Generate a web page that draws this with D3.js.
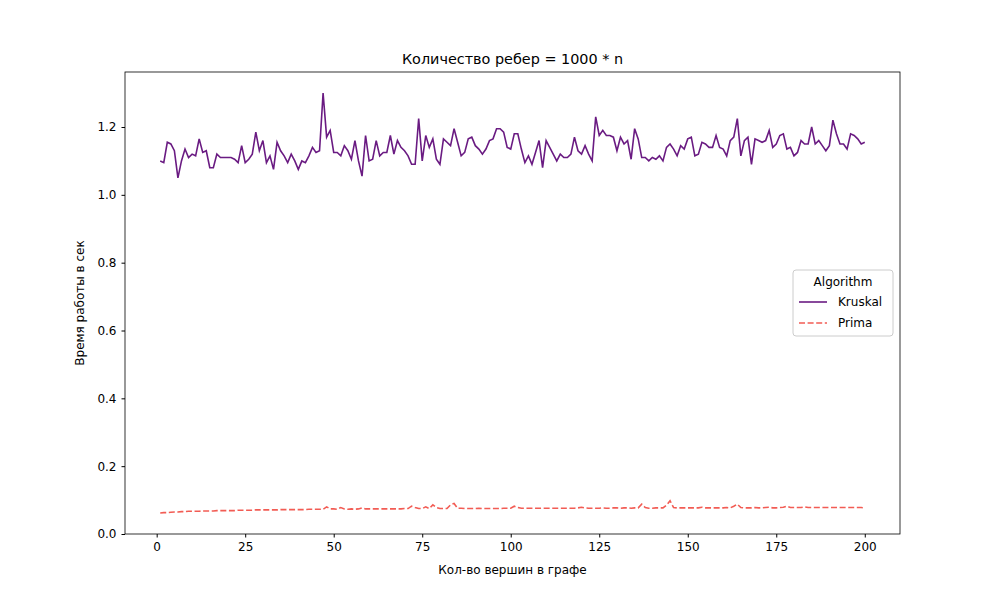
<!DOCTYPE html>
<html lang="ru">
<head>
<meta charset="UTF-8">
<title>Kruskal vs Prima</title>
<script src="https://cdnjs.cloudflare.com/ajax/libs/d3/7.8.5/d3.min.js"></script>
<style>
  body { margin: 0; background: #fff; }
  text { font-family: "DejaVu Sans", sans-serif; }
</style>
</head>
<body>
<svg id="chart" width="1000" height="600"></svg>
<script>
// time per run, seconds; n = 1..200
var kruskal = [
  1.100, 1.095, 1.155, 1.150, 1.130, 1.050, 1.100, 1.135, 1.110, 1.120,
  1.115, 1.165, 1.125, 1.130, 1.080, 1.080, 1.120, 1.110, 1.110, 1.110,
  1.110, 1.105, 1.095, 1.145, 1.095, 1.105, 1.120, 1.185, 1.130, 1.160,
  1.095, 1.115, 1.075, 1.155, 1.130, 1.115, 1.095, 1.120, 1.100, 1.075,
  1.100, 1.095, 1.115, 1.140, 1.125, 1.130, 1.300, 1.170, 1.190, 1.125,
  1.125, 1.115, 1.145, 1.130, 1.105, 1.160, 1.100, 1.055, 1.175, 1.100,
  1.105, 1.160, 1.115, 1.125, 1.125, 1.175, 1.120, 1.160, 1.140, 1.130,
  1.115, 1.090, 1.090, 1.225, 1.100, 1.175, 1.140, 1.165, 1.105, 1.090,
  1.165, 1.155, 1.145, 1.195, 1.155, 1.115, 1.125, 1.165, 1.170, 1.145,
  1.135, 1.120, 1.135, 1.160, 1.165, 1.195, 1.195, 1.185, 1.140, 1.135,
  1.180, 1.180, 1.135, 1.095, 1.115, 1.090, 1.125, 1.160, 1.080, 1.160,
  1.140, 1.120, 1.100, 1.120, 1.110, 1.110, 1.120, 1.170, 1.130, 1.120,
  1.145, 1.120, 1.100, 1.230, 1.175, 1.190, 1.175, 1.175, 1.170, 1.130,
  1.170, 1.150, 1.160, 1.105, 1.195, 1.165, 1.110, 1.110, 1.100, 1.110,
  1.105, 1.115, 1.100, 1.140, 1.150, 1.135, 1.115, 1.145, 1.135, 1.165,
  1.170, 1.115, 1.120, 1.155, 1.150, 1.140, 1.140, 1.175, 1.140, 1.135,
  1.115, 1.160, 1.170, 1.225, 1.115, 1.160, 1.170, 1.090, 1.165, 1.160,
  1.155, 1.160, 1.190, 1.140, 1.150, 1.175, 1.180, 1.135, 1.140, 1.115,
  1.125, 1.160, 1.150, 1.150, 1.200, 1.150, 1.160, 1.145, 1.130, 1.145,
  1.220, 1.180, 1.150, 1.150, 1.135, 1.180, 1.175, 1.165, 1.150, 1.155
];
var prima = [
  0.062, 0.063, 0.063, 0.064, 0.065, 0.065, 0.066, 0.066, 0.067, 0.067,
  0.067, 0.067, 0.068, 0.068, 0.068, 0.068, 0.069, 0.069, 0.069, 0.069,
  0.069, 0.069, 0.070, 0.070, 0.070, 0.070, 0.070, 0.071, 0.071, 0.071,
  0.071, 0.071, 0.071, 0.071, 0.072, 0.072, 0.072, 0.072, 0.072, 0.072,
  0.072, 0.072, 0.073, 0.073, 0.073, 0.073, 0.073, 0.080, 0.074, 0.074,
  0.073, 0.078, 0.074, 0.073, 0.074, 0.073, 0.074, 0.077, 0.074, 0.074,
  0.074, 0.074, 0.074, 0.074, 0.074, 0.074, 0.074, 0.074, 0.074, 0.075,
  0.075, 0.082, 0.078, 0.075, 0.075, 0.080, 0.075, 0.086, 0.078, 0.075,
  0.075, 0.075, 0.086, 0.090, 0.076, 0.076, 0.075, 0.075, 0.075, 0.075,
  0.076, 0.075, 0.075, 0.075, 0.075, 0.075, 0.075, 0.076, 0.076, 0.076,
  0.082, 0.078, 0.076, 0.076, 0.076, 0.076, 0.076, 0.076, 0.076, 0.076,
  0.076, 0.076, 0.076, 0.076, 0.076, 0.076, 0.076, 0.076, 0.077, 0.079,
  0.077, 0.076, 0.076, 0.076, 0.076, 0.077, 0.076, 0.076, 0.077, 0.077,
  0.076, 0.077, 0.077, 0.076, 0.077, 0.077, 0.088, 0.078, 0.076, 0.076,
  0.077, 0.077, 0.077, 0.085, 0.098, 0.078, 0.077, 0.077, 0.077, 0.077,
  0.077, 0.077, 0.077, 0.079, 0.077, 0.077, 0.077, 0.077, 0.077, 0.077,
  0.078, 0.077, 0.082, 0.088, 0.078, 0.077, 0.077, 0.077, 0.078, 0.077,
  0.077, 0.078, 0.079, 0.077, 0.077, 0.078, 0.079, 0.082, 0.078, 0.078,
  0.078, 0.078, 0.080, 0.078, 0.078, 0.078, 0.078, 0.078, 0.078, 0.078,
  0.078, 0.078, 0.078, 0.078, 0.078, 0.078, 0.078, 0.078, 0.078, 0.077
];
var xTicks = [0, 25, 50, 75, 100, 125, 150, 175, 200];
var yTicks = [0.0, 0.2, 0.4, 0.6, 0.8, 1.0, 1.2];

var svg = d3.select("#chart");
var pLeft = 125, pRight = 900, pTop = 72, pBottom = 534;

var x = d3.scaleLinear().domain([-8.95, 209.95]).range([pLeft, pRight]);
var y = d3.scaleLinear().domain([0, 1.3622]).range([pBottom, pTop]);

svg.append("g").attr("transform", "translate(0," + pBottom + ")")
    .call(d3.axisBottom(x).tickValues(xTicks).tickFormat(d3.format("d")).tickSizeOuter(0).tickSize(3.5).tickPadding(5));
svg.append("g").attr("transform", "translate(" + pLeft + ",0)")
    .call(d3.axisLeft(y).tickValues(yTicks).tickFormat(d3.format(".1f")).tickSizeOuter(0).tickSize(3.5).tickPadding(5));
svg.selectAll(".tick text").attr("font-size", 12).attr("fill", "#000");
svg.selectAll(".tick line").attr("stroke", "#000");
svg.selectAll(".domain").remove();

svg.append("rect").attr("x", pLeft).attr("y", pTop)
    .attr("width", pRight - pLeft).attr("height", pBottom - pTop)
    .attr("fill", "none").attr("stroke", "#000").attr("stroke-width", 0.8);

var line = d3.line().x(function(d, i) { return x(i + 1); }).y(function(d) { return y(d); });

svg.append("path").datum(kruskal).attr("d", line)
    .attr("fill", "none").attr("stroke", "#6a1b82").attr("stroke-width", 1.6);
svg.append("path").datum(prima).attr("d", line)
    .attr("fill", "none").attr("stroke", "#f25c54").attr("stroke-width", 1.6)
    .attr("stroke-dasharray", "6,2.6");

svg.append("text").attr("x", (pLeft + pRight) / 2).attr("y", 64)
    .attr("text-anchor", "middle").attr("font-size", 14.4)
    .text("Количество ребер = 1000 * n");
svg.append("text").attr("x", (pLeft + pRight) / 2).attr("y", 574)
    .attr("text-anchor", "middle").attr("font-size", 12)
    .text("Кол-во вершин в графе");
svg.append("text").attr("transform", "translate(84," + ((pTop + pBottom) / 2) + ") rotate(-90)")
    .attr("text-anchor", "middle").attr("font-size", 12)
    .text("Время работы в сек");

// legend
var lg = svg.append("g").attr("transform", "translate(793,270)");
lg.append("rect").attr("width", 100).attr("height", 66).attr("rx", 3)
    .attr("fill", "#fff").attr("fill-opacity", 0.8).attr("stroke", "#ccc");
lg.append("text").attr("x", 50).attr("y", 16).attr("text-anchor", "middle")
    .attr("font-size", 12).text("Algorithm");
var entries = [["Kruskal", "#6a1b82", null], ["Prima", "#f25c54", "6,2.6"]];
entries.forEach(function(e, i) {
  var yy = 32 + i * 21;
  lg.append("line").attr("x1", 6).attr("x2", 34).attr("y1", yy).attr("y2", yy)
      .attr("stroke", e[1]).attr("stroke-width", 1.6).attr("stroke-dasharray", e[2]);
  lg.append("text").attr("x", 45).attr("y", yy + 4).attr("font-size", 12).text(e[0]);
});
</script>
</body>
</html>
